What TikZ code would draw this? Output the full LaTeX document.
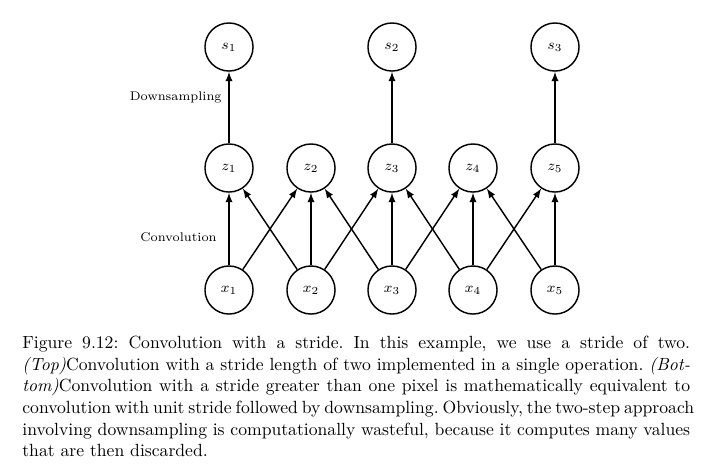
\documentclass[tikz,border=0pt]{standalone}
\usepackage{amsmath}
\usepackage{amssymb}
\usepackage{tikz}
\usepackage{xcolor}

\begin{document}
\begin{tikzpicture}[x=0.5556pt, y=-0.5556pt,
  unit/.style={circle, draw, thick, minimum size=26.7pt, inner sep=0pt, font=\footnotesize},
  conn/.style={thick, -latex},
  lbl/.style={anchor=east, font=\scriptsize}]
\useasboundingbox (0,0) rectangle (711,467);
% input and convolution layers
\foreach \i/\px in {1/229,2/311,3/392,4/473,5/555} {
  \node[unit] (x\i) at (\px,290) {$x_{\i}$};
  \node[unit] (z\i) at (\px,168) {$z_{\i}$};
}
% downsampled layer
\foreach \k/\j/\px in {1/1/229,2/3/392,3/5/555} {
  \node[unit] (s\k) at (\px,47) {$s_{\k}$};
  \draw[conn] (z\j) -- (s\k);
}
\foreach \i in {1,...,5} \draw[conn] (x\i) -- (z\i);
\foreach \i in {1,...,4} {
  \pgfmathtruncatemacro{\j}{\i+1}
  \draw[conn] (x\i) -- (z\j);
  \draw[conn] (x\j) -- (z\i);
}
\node[lbl] (ds) at (228,97) {Downsampling};
\node[lbl] (conv) at (223,237) {Convolution};
% caption
\node[anchor=north west, inner sep=0pt, text width=371pt, align=justify,
  font=\fontsize{9.8}{12}\selectfont\frenchspacing] (cap) at (22,336) {%
Figure 9.12: Convolution with a stride. In this example, we use a stride of two.\linebreak
\textit{(Top)}Convolution with a stride length of two implemented in a single operation. \textit{(Bot-}\linebreak
\textit{tom)}Convolution with a stride greater than one pixel is mathematically equivalent to\linebreak
\hbox to\linewidth{convolution with unit stride followed by downsampling. Obviously, the two-step approach}\linebreak
involving downsampling is computationally wasteful, because it computes many values\linebreak
that are then discarded.};
\end{tikzpicture}
\end{document}
